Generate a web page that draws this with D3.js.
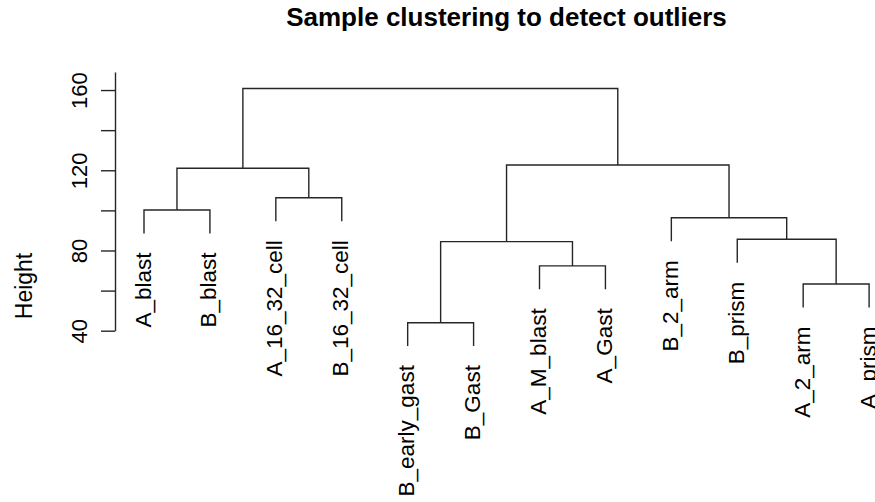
<!DOCTYPE html>
<html>
<head>
<meta charset="utf-8">
<script src="https://cdn.jsdelivr.net/npm/d3@7"></script>
<style>
  html, body { margin: 0; padding: 0; background: #ffffff; }
  svg { display: block; font-family: "Liberation Sans", Arial, Helvetica, sans-serif; }
</style>
</head>
<body>
<svg id="chart" width="875" height="502"></svg>
<script>
// Samples in dendrogram (left-to-right) order
const leafLabels = ["A_blast", "B_blast", "A_16_32_cell", "B_16_32_cell",
  "B_early_gast", "B_Gast", "A_M_blast", "A_Gast",
  "B_2_arm", "B_prism", "A_2_arm", "A_prism"];

// hclust-style merge table: negative = sample (1-based in leafLabels), positive = earlier merge row
const mergeLeft   = [-5, -11, -7, 1, -10, -9, -1, -3, 7, 4, 9];
const mergeRight  = [-6, -12, -8, 3,  2,   5, -2, -4, 8, 6, 10];
const mergeHeight = [44.0, 63.3, 72.3, 84.4, 85.6, 96.3, 100.2, 106.3, 121.0, 122.6, 160.8];

// y axis ticks and the ones that carry a label
const yTicks = [40, 60, 80, 100, 120, 140, 160];
const yTickLabels = [40, 80, 120, 160];

const titleText = "Sample clustering to detect outliers";
const yAxisTitle = "Height";

const svg = d3.select("#chart");
const lineColor = "#262626";

// Build the tree from the merge table
function buildNode(ref) {
  if (ref < 0) return { name: leafLabels[-ref - 1] };
  const i = ref - 1;
  return { height: mergeHeight[i], children: [buildNode(mergeLeft[i]), buildNode(mergeRight[i])] };
}
const root = d3.hierarchy(buildNode(mergeHeight.length));

const x = d3.scaleLinear().domain([1, leafLabels.length]).range([144, 869.1]);
const y = d3.scaleLinear().domain([40, 169]).range([330.7, 72]);

// leaves hang below their parent by 10% of the height range
const hang = 0.1 * (d3.max(mergeHeight) - d3.min(mergeHeight));

root.leaves().forEach((leaf, i) => { leaf.px = x(i + 1); });
root.eachAfter(n => {
  if (n.children) {
    n.px = d3.mean(n.children, c => c.px);
    n.h = n.data.height;
  }
});
root.leaves().forEach(leaf => { leaf.h = leaf.parent.data.height - hang; });

// Branches
const g = svg.append("g");
root.descendants().filter(n => n.children).forEach(n => {
  const [a, b] = n.children;
  const path = d3.path();
  path.moveTo(a.px, y(a.h));
  path.lineTo(a.px, y(n.h));
  path.lineTo(b.px, y(n.h));
  path.lineTo(b.px, y(b.h));
  g.append("path")
    .attr("d", path.toString())
    .attr("fill", "none")
    .attr("stroke", lineColor)
    .attr("stroke-width", 1.4);
});

// Leaf labels, rotated to read upward
g.selectAll("text.leaf")
  .data(root.leaves())
  .join("text")
  .attr("class", "leaf")
  .attr("transform", d => `translate(${d.px + 6.5},${y(d.h) + 19}) rotate(-90)`)
  .attr("text-anchor", "end")
  .attr("font-size", 22.5)
  .attr("fill", "#000")
  .text(d => d.data.name);

// Y axis
const axis = d3.axisLeft(y)
  .tickValues(yTicks)
  .tickSizeInner(14)
  .tickSizeOuter(0)
  .tickFormat(v => yTickLabels.includes(v) ? String(v) : "");

const axG = svg.append("g")
  .attr("transform", "translate(115,0)")
  .call(axis);
axG.select(".domain").attr("stroke", lineColor).attr("stroke-width", 1.4);
axG.selectAll(".tick line").attr("stroke", lineColor).attr("stroke-width", 1.4);
axG.selectAll(".tick text")
  .attr("x", 0)
  .attr("y", -28)
  .attr("dy", null)
  .attr("transform", "rotate(-90)")
  .attr("text-anchor", "middle")
  .attr("font-size", 22)
  .attr("font-family", null)
  .attr("fill", "#000");

// Axis title
svg.append("text")
  .attr("transform", "translate(31.5,286) rotate(-90)")
  .attr("text-anchor", "middle")
  .attr("font-size", 23)
  .attr("fill", "#000")
  .text(yAxisTitle);

// Chart title
svg.append("text")
  .attr("x", 506.5)
  .attr("y", 26)
  .attr("text-anchor", "middle")
  .attr("font-size", 26)
  .attr("font-weight", "bold")
  .attr("fill", "#000")
  .text(titleText);
</script>
</body>
</html>
